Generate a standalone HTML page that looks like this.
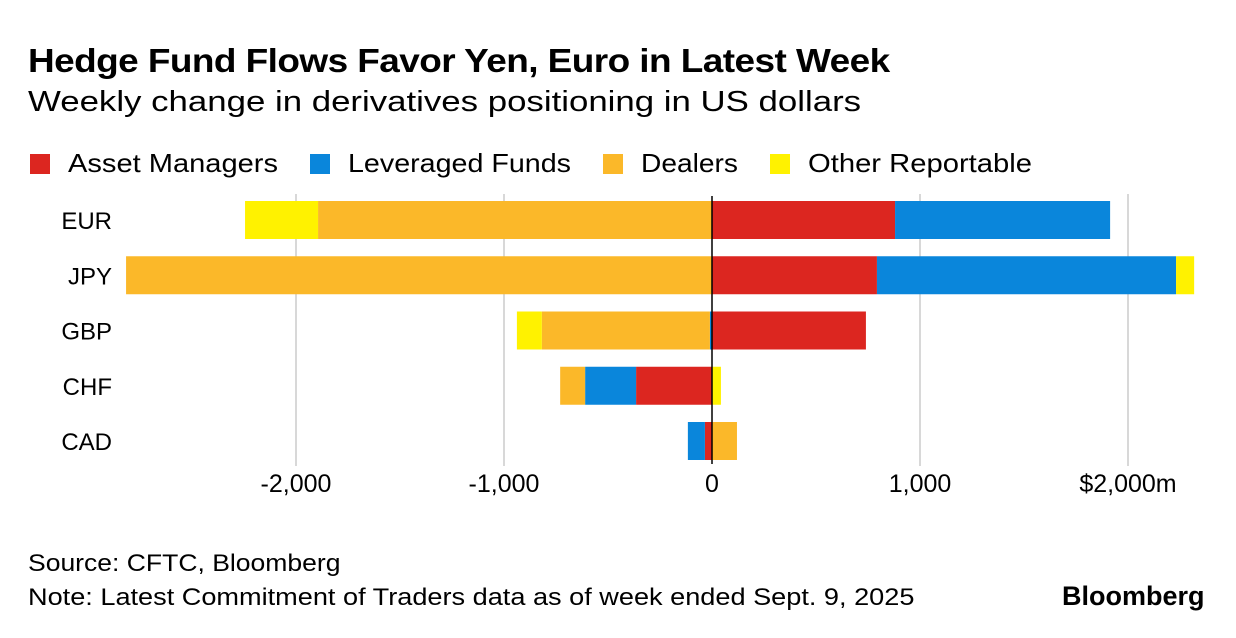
<!DOCTYPE html>
<html><head><meta charset="utf-8"><style>
body{margin:0;background:#fff;font-family:"Liberation Sans",sans-serif;}
#wrap{position:relative;width:1236px;height:638px;overflow:hidden;}
.t{position:absolute;white-space:nowrap;color:#000;transform-origin:0 0;}
</style></head><body>
<div id="wrap">
<div class="t" style="left:28px;top:42px;font-size:33px;font-weight:bold;letter-spacing:-0.5px;transform:scaleX(1.12)">Hedge Fund Flows Favor Yen, Euro in Latest Week</div>
<div class="t" style="left:28px;top:86px;font-size:29px;transform:scaleX(1.2)">Weekly change in derivatives positioning in US dollars</div>
<svg id="svg" width="1236" height="638" style="position:absolute;left:0;top:0"></svg>
<div class="t" style="left:28px;top:550px;font-size:24px;transform:scaleX(1.105)">Source: CFTC, Bloomberg</div>
<div class="t" style="left:28px;top:584px;font-size:24px;transform:scaleX(1.13)">Note: Latest Commitment of Traders data as of week ended Sept. 9, 2025</div>
<div class="t" style="left:1062px;top:581px;font-size:27px;font-weight:bold">Bloomberg</div>
</div>
<script>
const categories=["EUR","JPY","GBP","CHF","CAD"];
const seriesNames=["Asset Managers","Leveraged Funds","Dealers","Other Reportable"];
const colors=["#dc2620","#0a86db","#fbb829","#fff200"];
const assetManagers=[880,793,740,-365,-34];
const leveragedFunds=[1034,1438,-10,-245,-82];
const dealers=[-1894,-2817,-808,-120,120];
const otherReportable=[-351,87,-120,43,0];
const tickValues=[-2000,-1000,0,1000,2000];
const tickLabels=["-2,000","-1,000","0","1,000","$2,000m"];
const series=[assetManagers,leveragedFunds,dealers,otherReportable];
const svg=document.getElementById('svg');
const NS="http://www.w3.org/2000/svg";
const x=v=>712+v*0.208;
const yTop=i=>201+i*55.25;
const bh=38;
function mk(tag,attrs){const e=document.createElementNS(NS,tag);for(const k in attrs)e.setAttribute(k,attrs[k]);svg.appendChild(e);return e;}
const lxs=[30,310,603,770];
const ltl=[210,223,97,224];
seriesNames.forEach((n,i)=>{
 const r=mk('rect',{x:lxs[i],y:154,width:20,height:20,fill:colors[i]});
 
 
 const t=mk('text',{x:lxs[i]+38,y:172,'font-size':26,fill:'#000','font-family':'Liberation Sans, sans-serif',textLength:ltl[i],lengthAdjust:'spacingAndGlyphs'});
 t.textContent=n;
 
 
});
tickValues.forEach((v,i)=>{
 if(v!==0){const g=mk('line',{x1:x(v),x2:x(v),y1:194,y2:466,stroke:'#ccc','stroke-width':1.5});
 
 }
 const t=mk('text',{x:x(v),y:492,'font-size':25,'text-anchor':'middle',fill:'#000','font-family':'Liberation Sans, sans-serif'});
 t.textContent=tickLabels[i];
 
 
});
categories.forEach((c,i)=>{
 const t=mk('text',{x:112,y:yTop(i)+28,'font-size':24,'text-anchor':'end',fill:'#000','font-family':'Liberation Sans, sans-serif'});
 t.textContent=c;
 
 
 let pos=0,neg=0;
 series.forEach((s,j)=>{
  const v=s[i];if(!v)return;
  let a,b;
  if(v>0){a=pos;b=pos+v;pos=b;}else{a=neg+v;b=neg;neg=a;}
  const r=mk('rect',{x:x(a),y:yTop(i),width:x(b)-x(a),height:bh,fill:colors[j]});
  
  
 });
});
const z=mk('line',{x1:x(0),x2:x(0),y1:196,y2:464,stroke:'#000','stroke-width':1.5});


</script>
</body></html>
